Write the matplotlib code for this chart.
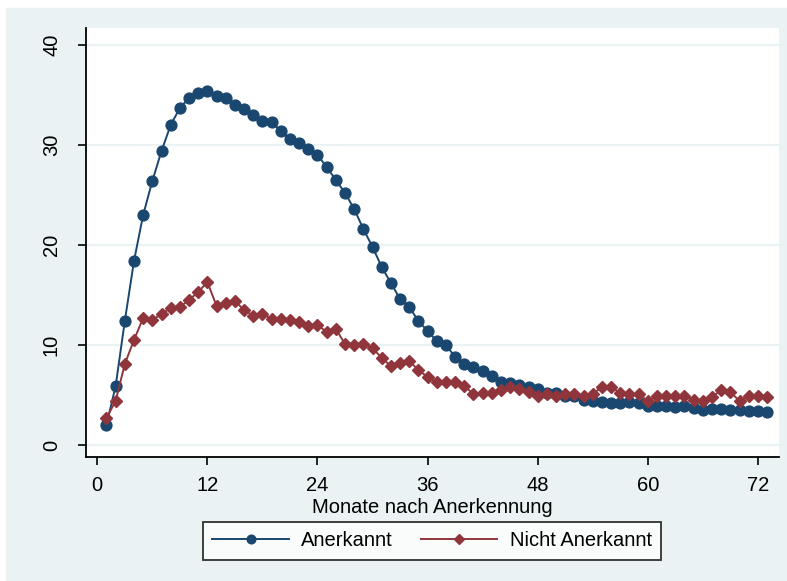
import matplotlib
matplotlib.use("Agg")
import matplotlib.pyplot as plt
from matplotlib.patches import Rectangle

# ---------- DATA ----------
months = [1, 2, 3, 4, 5, 6, 7, 8, 9, 10, 11, 12, 13, 14, 15, 16, 17, 18,
          19, 20, 21, 22, 23, 24, 25, 26, 27, 28, 29, 30, 31, 32, 33, 34, 35, 36,
          37, 38, 39, 40, 41, 42, 43, 44, 45, 46, 47, 48, 49, 50, 51, 52, 53, 54,
          55, 56, 57, 58, 59, 60, 61, 62, 63, 64, 65, 66, 67, 68, 69, 70, 71, 72, 73]

anerkannt = [2.0, 5.9, 12.4, 18.4, 23.0, 26.4, 29.4, 32.0, 33.7, 34.7, 35.2, 35.4,
             34.9, 34.7, 34.0, 33.6, 33.0, 32.4, 32.3, 31.4, 30.6, 30.2, 29.6, 29.0,
             27.8, 26.5, 25.2, 23.6, 21.6, 19.8, 17.8, 16.2, 14.6, 13.8, 12.4, 11.4,
             10.4, 10.0, 8.8, 8.1, 7.8, 7.4, 6.9, 6.3, 6.2, 6.0, 5.8, 5.6,
             5.2, 5.2, 4.9, 4.9, 4.5, 4.4, 4.3, 4.2, 4.2, 4.3, 4.2, 3.9,
             3.9, 3.9, 3.8, 3.9, 3.7, 3.5, 3.6, 3.6, 3.5, 3.5, 3.4, 3.4, 3.3]

nicht_anerkannt = [2.7, 4.4, 8.1, 10.5, 12.7, 12.5, 13.1, 13.7, 13.8, 14.5, 15.3, 16.3,
                   13.9, 14.2, 14.4, 13.5, 12.9, 13.1, 12.6, 12.6, 12.5, 12.3, 11.9, 12.0,
                   11.3, 11.6, 10.1, 10.0, 10.1, 9.7, 8.7, 7.9, 8.2, 8.4, 7.5, 6.8,
                   6.3, 6.3, 6.3, 5.9, 5.1, 5.2, 5.2, 5.5, 5.8, 5.6, 5.3, 4.9,
                   5.1, 4.9, 5.1, 5.1, 4.9, 5.1, 5.8, 5.8, 5.2, 5.1, 5.1, 4.4,
                   4.9, 4.9, 4.9, 4.9, 4.5, 4.4, 4.8, 5.5, 5.3, 4.4, 4.9, 4.9, 4.8]

x_ticks = [0, 12, 24, 36, 48, 60, 72]
y_ticks = [0, 10, 20, 30, 40]

# ---------- STYLE ----------
plt.rcParams["font.family"] = ["Liberation Sans", "DejaVu Sans"]
bg = "#eaf2f3"
navy = "#1a476f"
maroon = "#90353b"

fig = plt.figure(figsize=(7.87, 5.81), dpi=100, facecolor="white")
# light graph region (white strip at top and left, as in the original)
fig.patches.append(Rectangle((6 / 787, 0), 1, (581 - 8) / 581,
                             transform=fig.transFigure, color=bg, zorder=-10))

ax = fig.add_axes([86 / 787, (581 - 457) / 581, (779 - 86) / 787, (457 - 28) / 581])
ax.set_zorder(2)
ax.set_facecolor("white")

ax.plot(months, anerkannt, color=navy, lw=1.4, marker="o", ms=7.8,
        label="Anerkannt", zorder=3)
ax.plot(months, nicht_anerkannt, color=maroon, lw=1.4, marker="D", ms=6.2,
        label="Nicht Anerkannt", zorder=4)

ax.set_xlim(-1.23, 74.3)
ax.set_ylim(-1.2, 41.7)
ax.set_xticks(x_ticks)
ax.set_yticks(y_ticks)
ax.yaxis.grid(True, color=bg, lw=1.6, zorder=0)
ax.set_axisbelow(True)

for s in ["top", "right"]:
    ax.spines[s].set_visible(False)
for s in ["left", "bottom"]:
    ax.spines[s].set_linewidth(1.3)

ax.tick_params(axis="both", length=6, width=1.2, labelsize=14.5, direction="out")
ax.tick_params(axis="x", pad=8)
ax.tick_params(axis="y", pad=12)
for lab in ax.get_yticklabels():
    lab.set_rotation(90)
    lab.set_va("center")

ax.set_xlabel("Monate nach Anerkennung", fontsize=14.5, labelpad=2)

leg = fig.legend(loc="center", bbox_to_anchor=(432 / 787, (581 - 541) / 581),
                 ncol=2, frameon=True, fancybox=False, edgecolor="black",
                 fontsize=14.5, handlelength=3.8, handletextpad=0.6,
                 columnspacing=1.4, markerscale=0.8, borderpad=0.45)
leg.get_frame().set_linewidth(1.3)

fig.savefig("out.png", dpi=100, facecolor=fig.get_facecolor())
